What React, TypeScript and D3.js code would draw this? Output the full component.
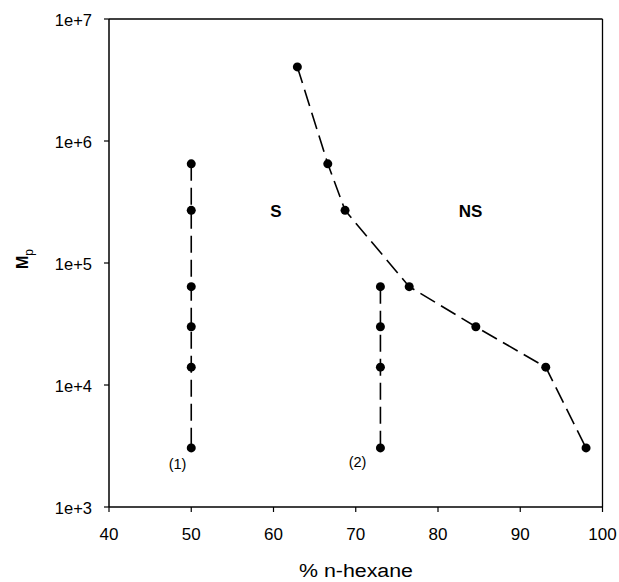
import React from "react";
import * as d3 from "d3";

const xTicks = [40, 50, 60, 70, 80, 90, 100];
const yTicks = [1e3, 1e4, 1e5, 1e6, 1e7];
const yTickLabels = ["1e+3", "1e+4", "1e+5", "1e+6", "1e+7"];

const series1X = [50, 50, 50, 50, 50, 50];
const series1Y = [6.5e5, 2.7e5, 6.4e4, 3.0e4, 1.4e4, 3.05e3];

const series2X = [73, 73, 73, 73];
const series2Y = [6.4e4, 3.0e4, 1.4e4, 3.05e3];

const curveX = [62.9, 66.6, 68.7, 76.5, 84.6, 93.1, 98.0];
const curveY = [4.05e6, 6.5e5, 2.7e5, 6.4e4, 3.0e4, 1.4e4, 3.05e3];

const W = 619;
const H = 582;
const left = 109;
const right = 602.5;
const top = 19;
const bottom = 507;

export default function App() {
  const x = d3.scaleLinear().domain([40, 100]).range([left, right]);
  const y = d3.scaleLog().domain([1e3, 1e7]).range([bottom, top]);
  const line = d3
    .line<[number, number]>()
    .x((d) => x(d[0]))
    .y((d) => y(d[1]));

  const s1 = series1X.map((v, i) => [v, series1Y[i]] as [number, number]);
  const s2 = series2X.map((v, i) => [v, series2Y[i]] as [number, number]);
  const c = curveX.map((v, i) => [v, curveY[i]] as [number, number]);
  const font = "Liberation Sans, Arial, Helvetica, sans-serif";

  return (
    <svg
      width={W}
      height={H}
      style={{ position: "absolute", left: 0, top: 0, background: "#fff" }}
      fontFamily={font}
    >
      {/* frame */}
      <line x1={left} x2={right} y1={top} y2={top} stroke="#000" strokeWidth={1.3} />
      <line x1={right} x2={right} y1={top} y2={bottom} stroke="#000" strokeWidth={1.3} />
      <line x1={left} x2={right} y1={bottom} y2={bottom} stroke="#000" strokeWidth={1.5} />
      <line x1={left} x2={left} y1={top} y2={bottom} stroke="#000" strokeWidth={1.5} />

      {/* x ticks */}
      {xTicks.map((t) => (
        <g key={"x" + t}>
          <line x1={x(t)} x2={x(t)} y1={bottom} y2={bottom + 5} stroke="#000" strokeWidth={1.2} />
          <text x={x(t)} y={bottom + 33} textAnchor="middle" fontSize={17}>
            {t}
          </text>
        </g>
      ))}
      {/* y ticks */}
      {yTicks.map((t, i) => (
        <g key={"y" + t}>
          <line x1={left - 5} x2={left} y1={y(t)} y2={y(t)} stroke="#000" strokeWidth={1.2} />
          <text x={left - 17} y={y(t) + 6.5} textAnchor="end" fontSize={16.5}>
            {yTickLabels[i]}
          </text>
        </g>
      ))}

      {/* axis titles */}
      <text
        x={356}
        y={577}
        textAnchor="middle"
        fontSize={18}
        textLength={114}
        lengthAdjust="spacingAndGlyphs"
      >
        % n-hexane
      </text>
      <text transform={`translate(28, 259) rotate(-90)`} textAnchor="middle" fontSize={16} fontWeight="bold">
        M
        <tspan fontSize={12} fontWeight="normal" dy={5}>p</tspan>
      </text>

      {/* lines */}
      {[s1, s2, c].map((d, i) => (
        <path
          key={"l" + i}
          d={line(d) || ""}
          fill="none"
          stroke="#000"
          strokeWidth={1.6}
          strokeDasharray="17,7"
        />
      ))}
      {/* points */}
      {[...s1, ...s2, ...c].map((d, i) => (
        <circle key={"p" + i} cx={x(d[0])} cy={y(d[1])} r={4.5} fill="#000" />
      ))}

      {/* region labels */}
      <text x={276} y={217} textAnchor="middle" fontSize={17} fontWeight="bold">
        S
      </text>
      <text x={470.5} y={217} textAnchor="middle" fontSize={17} fontWeight="bold">
        NS
      </text>
      <text x={177.5} y={469} textAnchor="middle" fontSize={14.5}>
        (1)
      </text>
      <text x={357.5} y={467} textAnchor="middle" fontSize={14.5}>
        (2)
      </text>
    </svg>
  );
}
